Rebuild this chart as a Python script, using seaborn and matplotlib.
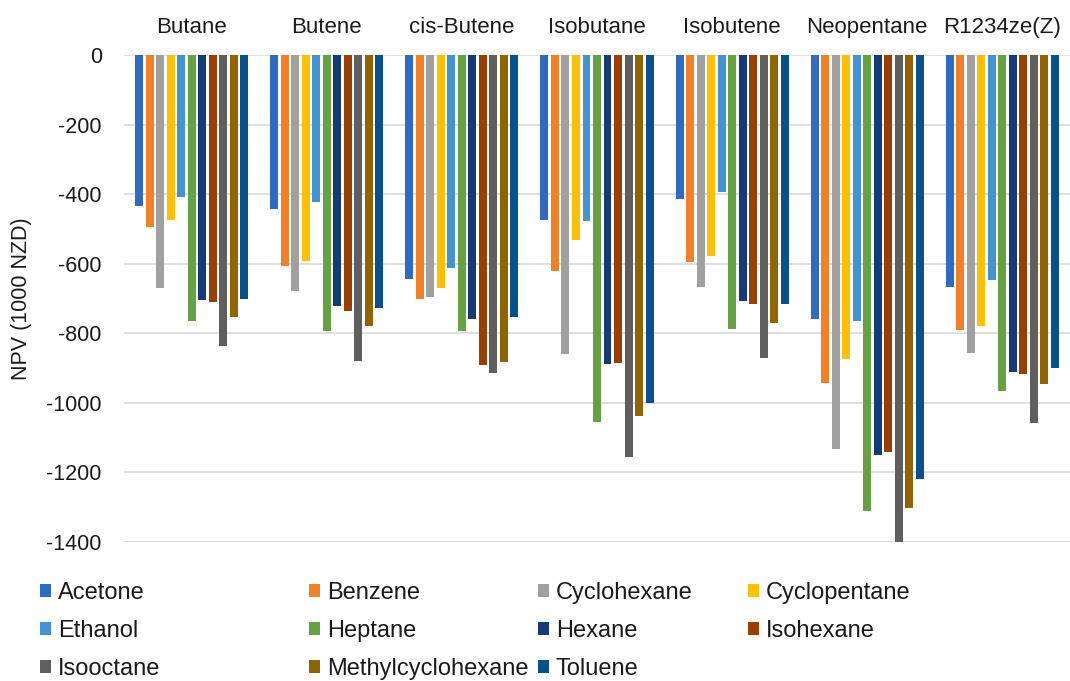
import matplotlib
matplotlib.use("Agg")
import matplotlib.pyplot as plt
import seaborn as sns
import pandas as pd

# Working fluids (groups) and solvents (series)
fluids = ["Butane", "Butene", "cis-Butene", "Isobutane", "Isobutene", "Neopentane", "R1234ze(Z)"]
solvents = ["Acetone", "Benzene", "Cyclohexane", "Cyclopentane", "Ethanol", "Heptane",
            "Hexane", "Isohexane", "Isooctane", "Methylcyclohexane", "Toluene"]

# NPV values (1000 NZD), one list per solvent, ordered as in `fluids`
acetone = [-433, -443, -643, -475, -414, -758, -668]
benzene = [-495, -606, -701, -622, -594, -944, -791]
cyclohexane = [-671, -678, -696, -859, -668, -1132, -858]
cyclopentane = [-473, -591, -671, -533, -577, -874, -778]
ethanol = [-408, -422, -611, -478, -394, -764, -647]
heptane = [-766, -794, -794, -1055, -787, -1311, -967]
hexane = [-704, -721, -758, -887, -707, -1150, -910]
isohexane = [-711, -736, -891, -884, -716, -1142, -916]
isooctane = [-836, -881, -913, -1155, -870, -1400, -1057]
methylcyclohexane = [-753, -778, -882, -1037, -769, -1303, -946]
toluene = [-701, -727, -752, -1001, -716, -1219, -899]

series = [acetone, benzene, cyclohexane, cyclopentane, ethanol, heptane,
          hexane, isohexane, isooctane, methylcyclohexane, toluene]

colors = ["#2E6BC5", "#F47F25", "#A0A0A0", "#FFC000", "#4293D3", "#67A242",
          "#143B78", "#9A3F00", "#5F5F5F", "#926400", "#07518F"]

rows = []
for solvent, vals in zip(solvents, series):
    for fluid, v in zip(fluids, vals):
        rows.append({"Fluid": fluid, "Solvent": solvent, "NPV": v})
df = pd.DataFrame(rows)

sns.set_theme(style="white")
plt.rcParams["font.family"] = ["Liberation Sans", "DejaVu Sans"]
TEXT = "#1A1A1A"

W, H = 1070, 681
fig = plt.figure(figsize=(W / 100, H / 100), dpi=100)
# axes box in pixels: left 124, right 1070, top 55, bottom 542
ax = fig.add_axes([124 / W, 1 - 542 / H, (1070 - 124) / W, (542 - 55) / H])

sns.barplot(data=df, x="Fluid", y="NPV", hue="Solvent", order=fluids,
            hue_order=solvents, palette=colors, width=0.855, gap=0.24,
            edgecolor="none", saturation=1, ax=ax)

ax.set_ylim(-1400, 0)
ticks = list(range(-1400, 1, 200))
ax.set_yticks(ticks)
ax.set_yticklabels([str(t) for t in ticks], fontsize=15.5, color=TEXT)
ax.yaxis.grid(True, color="#D9D9D9", linewidth=1.2)
ax.set_axisbelow(True)
for s in ax.spines.values():
    s.set_visible(False)

ax.xaxis.tick_top()
ax.tick_params(axis="x", length=0, pad=12, labelsize=16, labelcolor=TEXT)
ax.tick_params(axis="y", length=0, pad=16)
ax.set_xlabel("")
ax.set_ylabel("NPV (1000 NZD)", fontsize=15.5, labelpad=10, color=TEXT)
ax.set_xlim(-0.5, len(fluids) - 0.5)

# Legend: four columns laid out row by row, each column placed on its own
handles, labels = ax.get_legend_handles_labels()
ax.get_legend().remove()
lookup = dict(zip(labels, handles))
columns = [["Acetone", "Ethanol", "Isooctane"],
           ["Benzene", "Heptane", "Methylcyclohexane"],
           ["Cyclohexane", "Hexane", "Toluene"],
           ["Cyclopentane", "Isohexane"]]
col_x = [40, 309, 538, 748]
for names, x in zip(columns, col_x):
    leg = fig.legend([lookup[n] for n in names], names, loc="upper left",
                     bbox_to_anchor=(x / W, 1 - 582 / H), frameon=False,
                     fontsize=17, borderpad=0, borderaxespad=0,
                     handlelength=0.47, handleheight=0.47, handletextpad=0.28,
                     labelspacing=0.68)
    for t in leg.get_texts():
        t.set_color(TEXT)

fig.savefig("out.png", dpi=100)
